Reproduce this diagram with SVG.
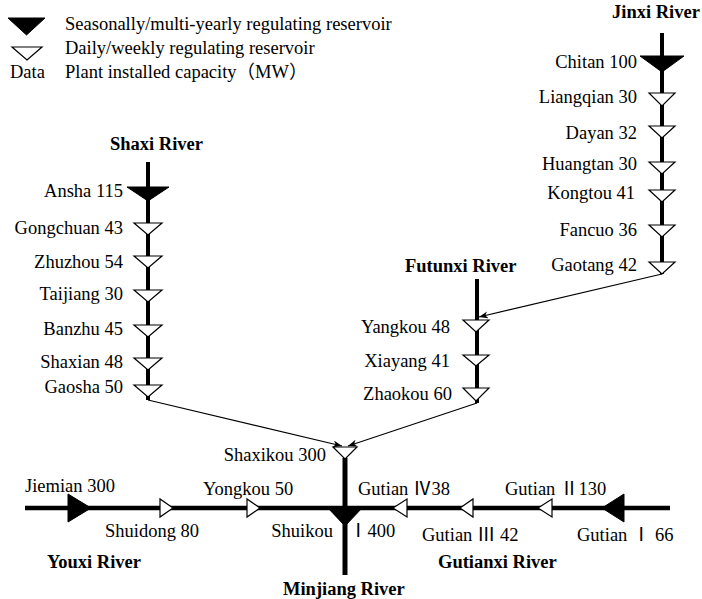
<svg xmlns="http://www.w3.org/2000/svg" width="702" height="599" viewBox="0 0 702 599">
<defs>
<style>
text{font-family:"Liberation Serif","Noto Sans CJK SC",serif;font-size:18.5px;fill:#000}
.b{font-weight:bold}
.e{text-anchor:end}
.river{stroke:#000;stroke-width:4;fill:none}
.fill{fill:#000;stroke:#000;stroke-width:1}
.open{fill:#fff;stroke:#000;stroke-width:1.2}
.conn{stroke:#000;stroke-width:1.2;fill:none}
</style>
<marker id="arr" markerWidth="10" markerHeight="8" refX="9" refY="3.5" orient="auto" markerUnits="userSpaceOnUse">
<path d="M0,0 L9,3.5 L0,7 L2.5,3.5 z" fill="#000"/>
</marker>
</defs>
<rect width="702" height="599" fill="#fff"/>

<g id="legend">
<polygon class="fill" points="8,18 45,18 26.5,35"/>
<text x="65" y="30">Seasonally/multi-yearly regulating reservoir</text>
<polygon class="open" points="12,47 42,47 27,60"/>
<text x="65" y="54">Daily/weekly regulating reservoir</text>
<text x="10" y="78">Data</text>
<text x="65" y="78">Plant installed capacity（MW）</text>
</g>

<g id="rivers">
<line class="river" x1="662" y1="33" x2="662" y2="274"/>
<line class="river" x1="148" y1="162" x2="148" y2="400"/>
<line class="river" x1="477" y1="279" x2="477" y2="403"/>
<line class="river" x1="345" y1="458" x2="345" y2="575" style="stroke-width:5"/>
<line class="river" x1="25" y1="508" x2="670" y2="508" style="stroke-width:4.5"/>
</g>

<g id="connectors">
<line class="conn" x1="662" y1="274" x2="479" y2="317" marker-end="url(#arr)"/>
<line class="conn" x1="148" y1="400" x2="342" y2="446" marker-end="url(#arr)"/>
<line class="conn" x1="477" y1="403" x2="348" y2="446" marker-end="url(#arr)"/>
</g>

<g id="labels-rivers">
<text class="b" x="612" y="18">Jinxi River</text>
<text class="b" x="110" y="150">Shaxi River</text>
<text class="b" x="405" y="272">Futunxi River</text>
<text class="b" x="47" y="568">Youxi River</text>
<text class="b" x="283" y="595">Minjiang River</text>
<text class="b" x="438" y="568">Gutianxi River</text>
</g>

<g id="chitan"><polygon class="fill" points="640,56 684,56 662,72"/><text class="e" x="637" y="68">Chitan 100</text></g>
<g id="liangqian"><polygon class="open" points="649,93 675,93 662,106"/><text class="e" x="637" y="103">Liangqian 30</text></g>
<g id="dayan"><polygon class="open" points="649,126 675,126 662,138"/><text class="e" x="637" y="139">Dayan 32</text></g>
<g id="huangtan"><polygon class="open" points="649,162 675,162 662,174"/><text class="e" x="637" y="170">Huangtan 30</text></g>
<g id="kongtou"><polygon class="open" points="649,190 675,190 662,202"/><text class="e" x="635" y="199">Kongtou 41</text></g>
<g id="fancuo"><polygon class="open" points="649,225 675,225 662,237"/><text class="e" x="637" y="236">Fancuo 36</text></g>
<g id="gaotang"><polygon class="open" points="649,262 675,262 662,274"/><text class="e" x="637" y="271">Gaotang 42</text></g>

<g id="ansha"><polygon class="fill" points="127,187 169,187 148,201"/><text class="e" x="123" y="197">Ansha 115</text></g>
<g id="gongchuan"><polygon class="open" points="134,223 162,223 148,235"/><text class="e" x="123" y="234">Gongchuan 43</text></g>
<g id="zhuzhou"><polygon class="open" points="134,256 162,256 148,268"/><text class="e" x="123" y="268">Zhuzhou 54</text></g>
<g id="taijiang"><polygon class="open" points="134,290 162,290 148,302"/><text class="e" x="123" y="300">Taijiang 30</text></g>
<g id="banzhu"><polygon class="open" points="134,325 162,325 148,337"/><text class="e" x="123" y="335">Banzhu 45</text></g>
<g id="shaxian"><polygon class="open" points="134,358 162,358 148,370"/><text class="e" x="123" y="368">Shaxian 48</text></g>
<g id="gaosha"><polygon class="open" points="134,385 162,385 148,397"/><text class="e" x="123" y="393">Gaosha 50</text></g>

<g id="yangkou"><polygon class="open" points="463,320 489,320 476,332"/><text class="e" x="450" y="333">Yangkou 48</text></g>
<g id="xiayang"><polygon class="open" points="463,355 489,355 476,366"/><text class="e" x="450" y="367">Xiayang 41</text></g>
<g id="zhaokou"><polygon class="open" points="463,388 489,388 476,401"/><text class="e" x="452" y="400">Zhaokou 60</text></g>

<g id="shaxikou"><polygon class="open" points="333,447 357,447 345,459"/><text class="e" x="326" y="461">Shaxikou 300</text></g>

<g id="jiemian"><polygon class="fill" points="68,494 68,522 91,508"/><text x="25" y="492">Jiemian 300</text></g>
<g id="shuidong"><polygon class="open" points="160,499 160,517 173,508"/><text x="105" y="537">Shuidong 80</text></g>
<g id="yongkou"><polygon class="open" points="247,499 247,517 260,508"/><text x="203" y="495">Yongkou 50</text></g>
<g id="shuikou"><polygon class="fill" points="327,507 363,507 345,526"/><text class="e" x="333" y="537">Shuikou</text><text x="349" y="537">Ⅰ400</text></g>
<g id="gutian4"><polygon class="open" points="393,508 407,499 407,517"/><text x="358" y="495">Gutian Ⅳ38</text></g>
<g id="gutian3"><polygon class="open" points="460,508 473,499 473,517"/><text x="422" y="541">Gutian Ⅲ 42</text></g>
<g id="gutian2"><polygon class="open" points="538,508 552,499 552,517"/><text x="505" y="495">Gutian Ⅱ130</text></g>
<g id="gutian1"><polygon class="fill" points="602,508 624,494 624,522"/><text x="577" y="541">Gutian Ⅰ 66</text></g>
</svg>
